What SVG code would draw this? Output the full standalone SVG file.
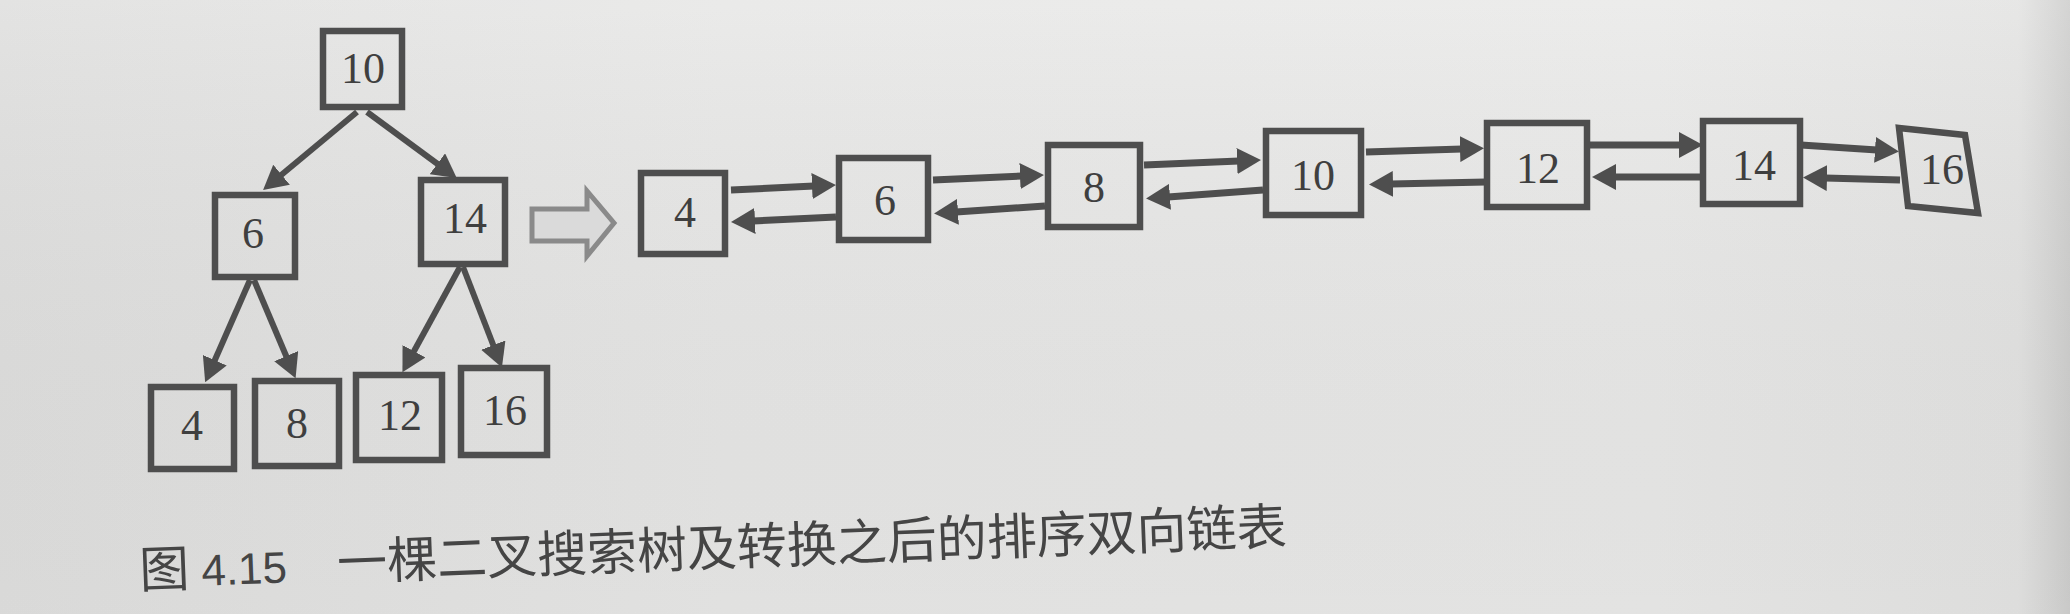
<svg xmlns="http://www.w3.org/2000/svg" width="2070" height="614" viewBox="0 0 2070 614">
<style>
.box{fill:none;stroke:#4e4e4e;stroke-width:6.5;stroke-linejoin:miter}
.lbl{font-family:"Liberation Serif","Times New Roman",serif;font-size:44px;fill:#3f3f3f;text-anchor:middle}
.edge{stroke:#4e4e4e;stroke-width:6;fill:none;marker-end:url(#ah)}
.link{stroke:#4e4e4e;stroke-width:7;fill:none;marker-end:url(#ah)}
.cap{font-family:"Noto Sans CJK SC","Noto Sans",sans-serif;font-size:50px;fill:#454545;font-weight:400}
.capn{font-family:"Liberation Sans",Arial,sans-serif;font-size:44px;fill:#454545}
</style>
<defs>
<linearGradient id="bg" x1="0" y1="0" x2="1" y2="0">
<stop offset="0" stop-color="#e0e0df"/>
<stop offset="0.35" stop-color="#e8e8e7"/>
<stop offset="0.8" stop-color="#eaeae9"/>
<stop offset="0.975" stop-color="#e4e4e3"/>
<stop offset="1" stop-color="#cfcfce"/>
</linearGradient>
<linearGradient id="bgv" x1="0" y1="0" x2="0" y2="1">
<stop offset="0" stop-color="#ffffff" stop-opacity="0.1"/>
<stop offset="1" stop-color="#000000" stop-opacity="0.03"/>
</linearGradient>
<marker id="ah" markerUnits="userSpaceOnUse" viewBox="0 0 24 26" markerWidth="24" markerHeight="26" refX="2" refY="13" orient="auto">
<path d="M0,0 L24,13 L0,26 z" fill="#4e4e4e"/>
</marker>
</defs>
<rect x="0" y="0" width="2070" height="614" fill="url(#bg)"/>
<rect x="0" y="0" width="2070" height="614" fill="url(#bgv)"/>

<g id="connectors">
<line class="edge" x1="357" y1="112" x2="280" y2="176"/>
<line class="edge" x1="367" y1="112" x2="439" y2="165"/>
<line class="edge" x1="250" y1="280" x2="214" y2="362"/>
<line class="edge" x1="254" y1="280" x2="287" y2="358"/>
<line class="edge" x1="460" y1="267" x2="413" y2="353"/>
<line class="edge" x1="463" y1="267" x2="494" y2="347"/>

<line class="link" x1="731" y1="190" x2="814" y2="186"/>
<line class="link" x1="836" y1="217" x2="753" y2="221"/>
<line class="link" x1="933" y1="180" x2="1022" y2="176"/>
<line class="link" x1="1045" y1="206" x2="956" y2="212"/>
<line class="link" x1="1144" y1="165" x2="1239" y2="161"/>
<line class="link" x1="1263" y1="190" x2="1168" y2="197"/>
<line class="link" x1="1366" y1="152" x2="1462" y2="149"/>
<line class="link" x1="1486" y1="182" x2="1391" y2="184"/>
<line class="link" x1="1590" y1="145" x2="1681" y2="145"/>
<line class="link" x1="1702" y1="177" x2="1614" y2="177"/>
<line class="link" x1="1801" y1="145" x2="1877" y2="150"/>
<line class="link" x1="1900" y1="180" x2="1825" y2="178"/>

<polygon id="convert-arrow" points="532,209 587,209 587,191 614,223 587,256 587,241 532,241" fill="#dadada" stroke="#8a8a8a" stroke-width="5" stroke-linejoin="miter"/>
</g>

<g id="tree-10"><rect class="box" x="323" y="31" width="79" height="76"/><text class="lbl" x="363" y="83">10</text></g>
<g id="tree-6"><rect class="box" x="215" y="195" width="80" height="82"/><text class="lbl" x="253" y="248">6</text></g>
<g id="tree-14"><rect class="box" x="421" y="180" width="84" height="84"/><text class="lbl" x="465" y="233">14</text></g>
<g id="tree-4"><rect class="box" x="151" y="387" width="83" height="82"/><text class="lbl" x="192" y="440">4</text></g>
<g id="tree-8"><rect class="box" x="255" y="381" width="84" height="85"/><text class="lbl" x="297" y="438">8</text></g>
<g id="tree-12"><rect class="box" x="356" y="375" width="86" height="85"/><text class="lbl" x="400" y="430">12</text></g>
<g id="tree-16"><rect class="box" x="461" y="368" width="86" height="87"/><text class="lbl" x="505" y="425">16</text></g>

<g id="list-4"><rect class="box" x="641" y="173" width="84" height="81"/><text class="lbl" x="685" y="227">4</text></g>
<g id="list-6"><rect class="box" x="839" y="158" width="89" height="82"/><text class="lbl" x="885" y="215">6</text></g>
<g id="list-8"><rect class="box" x="1048" y="145" width="92" height="82"/><text class="lbl" x="1094" y="202">8</text></g>
<g id="list-10"><rect class="box" x="1266" y="131" width="95" height="84"/><text class="lbl" x="1313" y="190">10</text></g>
<g id="list-12"><rect class="box" x="1487" y="123" width="100" height="84"/><text class="lbl" x="1538" y="183">12</text></g>
<g id="list-14"><rect class="box" x="1703" y="121" width="97" height="83"/><text class="lbl" x="1754" y="180">14</text></g>
<g id="list-16"><polygon class="box" points="1899,128 1965,135 1978,213 1908,206"/><text class="lbl" x="1942" y="184">16</text></g>

<g id="caption" transform="rotate(-2.2 142 588)">
<text class="cap" x="140" y="588">图</text>
<text class="capn" x="202" y="588">4.15</text>
<text class="cap" x="338" y="588">一棵二叉搜索树及转换之后的排序双向链表</text>
</g>
</svg>
